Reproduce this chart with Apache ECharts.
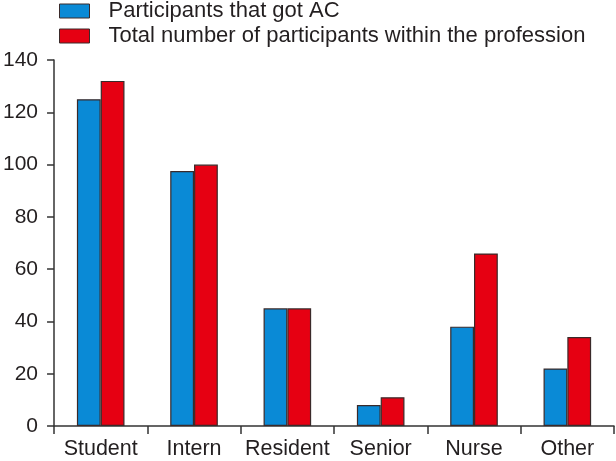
<!DOCTYPE html>
<html><head><meta charset="utf-8">
<script src="https://cdn.jsdelivr.net/npm/echarts@6/dist/echarts.min.js"></script>
<style>html,body{margin:0;padding:0;background:#fff}#c{width:616px;height:461px}</style>
</head><body><div id="c"></div>
<script>
const categories = ["Student","Intern","Resident","Senior","Nurse","Other"];
const gotAC = [125,97.5,45,8,38,22];
const total = [132,100,45,11,66,34];
const seriesNames = ["Participants that got AC","Total number of participants within the profession"];
const yTicks = {min:0,max:140,interval:20};

const chart = echarts.init(document.getElementById('c'));
const font = "'Liberation Sans', Arial, Helvetica, sans-serif";
chart.setOption({
  animation:false,
  backgroundColor:'#fff',
  legend:{
    orient:'vertical', left:59, top:0, itemWidth:30, itemHeight:14, itemGap:3,
    icon:'rect', padding:0,
    itemStyle:{borderColor:'#3a2a2a', borderWidth:1},
    textStyle:{fontFamily:font, fontSize:22, lineHeight:22, color:'#231f20', padding:[0,0,0,14]},
    data:seriesNames
  },
  grid:{left:52, right:2, top:60, bottom:35, containLabel:false},
  xAxis:{
    type:'category', data:categories,
    axisLine:{lineStyle:{color:'#333', width:1.5}},
    axisTick:{show:true, length:8, lineStyle:{color:'#333', width:1.5}},
    axisLabel:{fontFamily:font, fontSize:21.5, color:'#231f20', margin:12, interval:0}
  },
  yAxis:{
    type:'value', min:yTicks.min, max:yTicks.max, interval:yTicks.interval,
    axisLine:{show:true, lineStyle:{color:'#333', width:1.5}},
    axisTick:{show:true, length:7, lineStyle:{color:'#333', width:1.5}},
    splitLine:{show:false},
    axisLabel:{fontFamily:font, fontSize:21, color:'#231f20', margin:16}
  },
  series:[
    {name:seriesNames[0], type:'bar', data:gotAC, barGap:'0%', barCategoryGap:'49%',
     itemStyle:{color:'#0a8ad6', borderColor:'#3a2a2a', borderWidth:1.2}},
    {name:seriesNames[1], type:'bar', data:total, barGap:'0%', barCategoryGap:'49%',
     itemStyle:{color:'#e60012', borderColor:'#3a2a2a', borderWidth:1.2}}
  ]
});
</script></body></html>
